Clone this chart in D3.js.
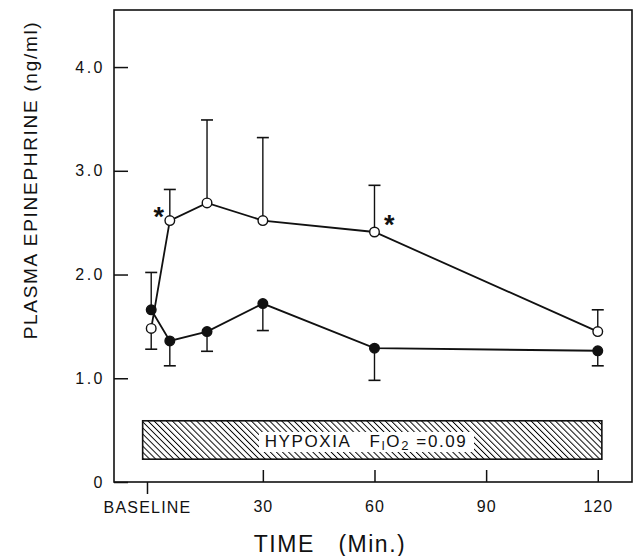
<!DOCTYPE html>
<html>
<head>
<meta charset="utf-8">
<script src="https://cdn.jsdelivr.net/npm/d3@7"></script>
<style>
  body { margin: 0; background: #fff; }
  text { font-family: "Liberation Sans", "DejaVu Sans", sans-serif; fill: #111; }
</style>
</head>
<body>
<div class="chart"></div>
<script>
// plasma epinephrine during hypoxia

var width = 635;
var height = 556;

// sampling times (min), baseline drawn at 0
var times = [0, 5, 15, 30, 60, 120];

// open circles
var openMean = [1.48, 2.52, 2.69, 2.52, 2.41, 1.45];
var openErrEnd = [1.28, 2.82, 3.49, 3.32, 2.86, 1.66];

// filled circles
var filledMean = [1.66, 1.36, 1.45, 1.72, 1.29, 1.265];
var filledErrEnd = [2.02, 1.12, 1.26, 1.46, 0.98, 1.12];

// significance marks (time, value where the * sits)
var starTimes = [2, 64];
var starValues = [2.61, 2.54];

var yTicks = [0, 1, 2, 3, 4];
var xTicks = [30, 60, 90, 120];
var baselineTick = -1;

// hypoxia bar: time span and value span
var hypoxiaSpan = [-2.3, 121.1];
var hypoxiaLevels = [0.22, 0.59];

var x = d3.scaleLinear().domain([-10, 129.2]).range([114, 632]);
var y = d3.scaleLinear().domain([0, 4.55]).range([482, 10]);

var svg = d3.select('.chart').append('svg')
    .attr('width', width)
    .attr('height', height);

svg.append('rect').attr('width', width).attr('height', height).attr('fill', '#fff');

// hatch pattern
var pat = svg.append('defs').append('pattern')
    .attr('id', 'hatch')
    .attr('patternUnits', 'userSpaceOnUse')
    .attr('width', 4.3)
    .attr('height', 4.3)
    .attr('patternTransform', 'rotate(-45)');
pat.append('line')
    .attr('x1', 0).attr('y1', 0).attr('x2', 0).attr('y2', 4.3)
    .attr('stroke', '#000').attr('stroke-width', 1.9);

// frame
svg.append('rect')
    .attr('x', x.range()[0]).attr('y', y.range()[1])
    .attr('width', x.range()[1] - x.range()[0])
    .attr('height', y.range()[0] - y.range()[1])
    .attr('fill', 'none').attr('stroke', '#111').attr('stroke-width', 1.6);

// y axis
var yAxis = svg.append('g')
    .attr('transform', 'translate(' + x.range()[0] + ',0)')
    .call(d3.axisLeft(y).tickValues(yTicks).tickSize(-14).tickPadding(9)
      .tickFormat(function (d) { return d === 0 ? '0' : d3.format('.1f')(d); }));
yAxis.select('.domain').remove();
yAxis.selectAll('line').attr('stroke', '#111').attr('stroke-width', 1.5);
yAxis.selectAll('text')
    .style('font-size', '16px')
    .attr('letter-spacing', '2.5px')
    .attr('fill', '#111');

// x axis
var xAxis = svg.append('g')
    .attr('transform', 'translate(0,' + y.range()[0] + ')')
    .call(d3.axisBottom(x).tickValues(xTicks).tickSize(-12).tickPadding(19));
xAxis.select('.domain').remove();
xAxis.selectAll('line').attr('stroke', '#111').attr('stroke-width', 1.5);
xAxis.selectAll('text')
    .style('font-size', '16px')
    .attr('letter-spacing', '1px')
    .attr('fill', '#111');

// baseline tick points down
svg.append('line')
    .attr('x1', x(baselineTick)).attr('x2', x(baselineTick))
    .attr('y1', y(0)).attr('y2', y(0) + 12)
    .attr('stroke', '#111').attr('stroke-width', 1.5);
svg.append('text')
    .attr('x', x(baselineTick))
    .attr('y', 513)
    .attr('text-anchor', 'middle')
    .attr('letter-spacing', '1.2px')
    .style('font-size', '16px')
    .text('BASELINE');

// axis titles
svg.append('text')
    .attr('transform', 'translate(37,180) rotate(-90)')
    .attr('text-anchor', 'middle')
    .attr('letter-spacing', '1.7px')
    .style('font-size', '19px')
    .text('PLASMA EPINEPHRINE (ng/ml)');

svg.append('text')
    .attr('x', 330)
    .attr('y', 552)
    .attr('text-anchor', 'middle')
    .attr('letter-spacing', '1.5px')
    .style('font-size', '23px')
    .attr('xml:space', 'preserve')
    .text('TIME   (Min.)');

// hypoxia bar
svg.append('rect')
    .attr('x', x(hypoxiaSpan[0]))
    .attr('y', y(hypoxiaLevels[1]))
    .attr('width', x(hypoxiaSpan[1]) - x(hypoxiaSpan[0]))
    .attr('height', y(hypoxiaLevels[0]) - y(hypoxiaLevels[1]))
    .attr('fill', 'url(#hatch)')
    .attr('stroke', '#111').attr('stroke-width', 1.6);

svg.append('rect')
    .attr('x', 259).attr('y', 432)
    .attr('width', 215).attr('height', 20)
    .attr('fill', '#fff');

var hyp = svg.append('text')
    .attr('x', 366)
    .attr('y', 447)
    .attr('text-anchor', 'middle')
    .attr('letter-spacing', '1.6px')
    .style('font-size', '17px')
    .attr('xml:space', 'preserve');
hyp.append('tspan').text('HYPOXIA   F');
hyp.append('tspan').attr('dy', 3).style('font-size', '12px').text('I');
hyp.append('tspan').attr('dy', -3).text('O');
hyp.append('tspan').attr('dy', 3).style('font-size', '13px').text('2');
hyp.append('tspan').attr('dy', -3).text(' =0.09');

// series
var series = [
  { mean: openMean, err: openErrEnd, fill: '#fff' },
  { mean: filledMean, err: filledErrEnd, fill: '#111' }
];

var line = d3.line()
    .x(function (d) { return x(d.t); })
    .y(function (d) { return y(d.v); });

series.forEach(function (s) {
  s.points = times.map(function (t, i) {
    return { t: t, v: s.mean[i], e: s.err[i] };
  });
});

series.forEach(function (s) {
  svg.append('path')
      .datum(s.points)
      .attr('d', line)
      .attr('fill', 'none')
      .attr('stroke', '#111')
      .attr('stroke-width', 1.8);
});

series.forEach(function (s) {
  var bars = svg.append('g').selectAll('g')
      .data(s.points)
      .enter().append('g');
  bars.append('line')
      .attr('x1', function (d) { return x(d.t); })
      .attr('x2', function (d) { return x(d.t); })
      .attr('y1', function (d) { return y(d.v); })
      .attr('y2', function (d) { return y(d.e); })
      .attr('stroke', '#111').attr('stroke-width', 1.4);
  bars.append('line')
      .attr('x1', function (d) { return x(d.t) - 6; })
      .attr('x2', function (d) { return x(d.t) + 6; })
      .attr('y1', function (d) { return y(d.e); })
      .attr('y2', function (d) { return y(d.e); })
      .attr('stroke', '#111').attr('stroke-width', 1.6);
});

series.forEach(function (s) {
  svg.append('g').selectAll('circle')
      .data(s.points)
      .enter().append('circle')
      .attr('cx', function (d) { return x(d.t); })
      .attr('cy', function (d) { return y(d.v); })
      .attr('r', 4.8)
      .attr('fill', s.fill)
      .attr('stroke', '#111')
      .attr('stroke-width', 1.4);
});

// asterisks
svg.selectAll('.star')
    .data(starTimes)
    .enter().append('text')
    .attr('class', 'star')
    .attr('x', function (d) { return x(d); })
    .attr('y', function (d, i) { return y(starValues[i]) + 15; })
    .attr('text-anchor', 'middle')
    .style('font-size', '27px')
    .style('font-weight', 'bold')
    .text('*');
</script>
</body>
</html>
